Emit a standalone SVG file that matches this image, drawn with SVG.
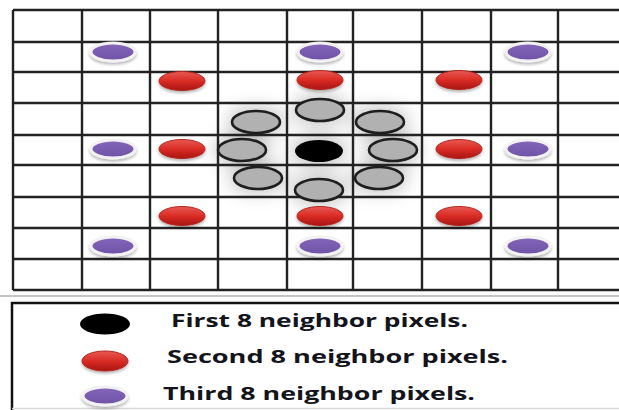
<svg xmlns="http://www.w3.org/2000/svg" width="619" height="410" viewBox="0 0 619 410">
  <defs>
    <filter id="halo" x="-50%" y="-50%" width="200%" height="200%">
      <feGaussianBlur stdDeviation="9"/>
    </filter>
    <filter id="soft" x="-30%" y="-30%" width="160%" height="180%">
      <feGaussianBlur in="SourceAlpha" stdDeviation="1.5"/>
      <feOffset dy="1.5" result="b"/>
      <feFlood flood-color="#000" flood-opacity="0.3"/>
      <feComposite in2="b" operator="in"/>
      <feMerge><feMergeNode/><feMergeNode in="SourceGraphic"/></feMerge>
    </filter>
    <linearGradient id="redg" x1="0" y1="0" x2="0" y2="1">
      <stop offset="0" stop-color="#e85a52"/>
      <stop offset="0.5" stop-color="#d92b25"/>
      <stop offset="1" stop-color="#a81612"/>
    </linearGradient>
    <linearGradient id="purg" x1="0" y1="0" x2="0" y2="1">
      <stop offset="0" stop-color="#8466bb"/>
      <stop offset="1" stop-color="#6f52a6"/>
    </linearGradient>
  </defs>
  <style>
    .grid line { stroke: #222; stroke-width: 2.4; }
    .gray { fill: #b1b1b1; stroke: #1e1e1e; stroke-width: 2.6; }
    .red { fill: url(#redg); stroke: #b3241e; stroke-width: 1; filter: url(#soft); }
    .pur { fill: url(#purg); stroke: #f2f2f2; stroke-width: 3; filter: url(#soft); }
    .blk { fill: #000; }
    .lbl { font-family: "Open Sans", "Liberation Sans", sans-serif; font-weight: bold; font-size: 18px; fill: #14141c; }
  </style>
  <rect width="619" height="410" fill="#fff"/>

  <!-- halo behind first neighbours -->
  <g id="halo-area" filter="url(#halo)" fill="#9a9a9a" opacity="0.6">
    <ellipse cx="320" cy="110" rx="28" ry="15"/>
    <ellipse cx="256" cy="122" rx="28" ry="15"/>
    <ellipse cx="380" cy="122" rx="28" ry="15"/>
    <ellipse cx="242" cy="150" rx="28" ry="15"/>
    <ellipse cx="393" cy="150" rx="28" ry="15"/>
    <ellipse cx="258" cy="178" rx="28" ry="15"/>
    <ellipse cx="379" cy="178" rx="28" ry="15"/>
    <ellipse cx="319" cy="190" rx="28" ry="15"/>
    <ellipse cx="319" cy="151" rx="28" ry="15"/>
  </g>

  <g id="grid" class="grid">
    <line x1="13" y1="10" x2="619" y2="10"/>
    <line x1="13" y1="42" x2="619" y2="42"/>
    <line x1="13" y1="72" x2="619" y2="72"/>
    <line x1="13" y1="103" x2="619" y2="103"/>
    <line x1="13" y1="135" x2="619" y2="135"/>
    <line x1="13" y1="165" x2="619" y2="165"/>
    <line x1="13" y1="197" x2="619" y2="197"/>
    <line x1="13" y1="228" x2="619" y2="228"/>
    <line x1="13" y1="259" x2="619" y2="259"/>
    <line x1="13" y1="290" x2="619" y2="290"/>
    <line x1="13" y1="10" x2="13" y2="290"/>
    <line x1="82" y1="10" x2="82" y2="290"/>
    <line x1="150" y1="10" x2="150" y2="290"/>
    <line x1="218" y1="10" x2="218" y2="290"/>
    <line x1="287" y1="10" x2="287" y2="290"/>
    <line x1="353" y1="10" x2="353" y2="290"/>
    <line x1="422" y1="10" x2="422" y2="290"/>
    <line x1="491" y1="10" x2="491" y2="290"/>
    <line x1="558" y1="10" x2="558" y2="290"/>
  </g>
  <line x1="0" y1="296" x2="619" y2="296" stroke="#c4c4c4" stroke-width="2"/>

  <g id="third-neighbours">
    <ellipse class="pur" cx="113" cy="52" rx="22" ry="9"/>
    <ellipse class="pur" cx="320" cy="52" rx="22" ry="9"/>
    <ellipse class="pur" cx="528" cy="52" rx="22" ry="9"/>
    <ellipse class="pur" cx="113" cy="149" rx="22" ry="9"/>
    <ellipse class="pur" cx="528" cy="149" rx="22" ry="9"/>
    <ellipse class="pur" cx="113" cy="246" rx="22" ry="9"/>
    <ellipse class="pur" cx="320" cy="246" rx="22" ry="9"/>
    <ellipse class="pur" cx="528" cy="246" rx="22" ry="9"/>
  </g>

  <g id="second-neighbours">
    <ellipse class="red" cx="182" cy="81" rx="23" ry="9.5"/>
    <ellipse class="red" cx="320" cy="80" rx="23" ry="9.5"/>
    <ellipse class="red" cx="459" cy="80" rx="23" ry="9.5"/>
    <ellipse class="red" cx="182" cy="149" rx="23" ry="9.5"/>
    <ellipse class="red" cx="459" cy="149" rx="23" ry="9.5"/>
    <ellipse class="red" cx="182" cy="216" rx="23" ry="9.5"/>
    <ellipse class="red" cx="320" cy="216" rx="23" ry="9.5"/>
    <ellipse class="red" cx="459" cy="216" rx="23" ry="9.5"/>
  </g>

  <g id="first-neighbours">
    <ellipse class="gray" cx="320" cy="110" rx="24" ry="11"/>
    <ellipse class="gray" cx="256" cy="122" rx="24" ry="11"/>
    <ellipse class="gray" cx="380" cy="122" rx="24" ry="11"/>
    <ellipse class="gray" cx="242" cy="150" rx="24" ry="11"/>
    <ellipse class="gray" cx="393" cy="150" rx="24" ry="11"/>
    <ellipse class="gray" cx="258" cy="178" rx="24" ry="11"/>
    <ellipse class="gray" cx="379" cy="178" rx="24" ry="11"/>
    <ellipse class="gray" cx="319" cy="190" rx="24" ry="11"/>
  </g>

  <g id="center-pixel">
    <ellipse class="blk" cx="319" cy="151" rx="24" ry="11"/>
  </g>

  <g id="legend">
    <path d="M12 410 V303 H619" fill="none" stroke="#111" stroke-width="2.5"/>
    <line x1="12" y1="408.5" x2="619" y2="408.5" stroke="#d8d8d8" stroke-width="1.5"/>
    <g id="legend-first">
      <ellipse class="blk" cx="105" cy="324" rx="25" ry="10.5"/>
      <text class="lbl" x="171" y="327" textLength="297" lengthAdjust="spacingAndGlyphs">First 8 neighbor pixels.</text>
    </g>
    <g id="legend-second">
      <ellipse class="red" cx="105" cy="361" rx="23" ry="10"/>
      <text class="lbl" x="167" y="363" textLength="341" lengthAdjust="spacingAndGlyphs">Second 8 neighbor pixels.</text>
    </g>
    <g id="legend-third">
      <ellipse class="pur" cx="105" cy="396" rx="22" ry="9"/>
      <text class="lbl" x="163" y="400" textLength="312" lengthAdjust="spacingAndGlyphs">Third 8 neighbor pixels.</text>
    </g>
  </g>
</svg>
